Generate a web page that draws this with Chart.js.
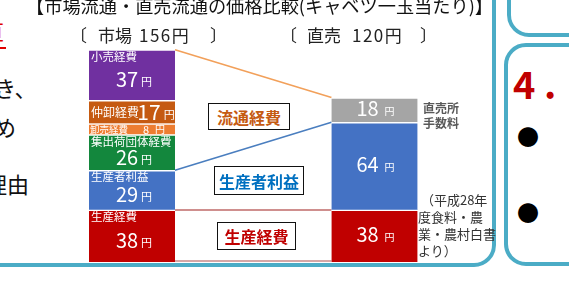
<!DOCTYPE html>
<html><head><meta charset="utf-8">
<script src="https://cdn.jsdelivr.net/npm/chart.js@4.4.1/dist/chart.umd.min.js"></script>
<style>
html,body{margin:0;padding:0;background:#fff;}
body{width:569px;height:284px;position:relative;overflow:hidden;font-family:"Noto Sans CJK JP","Noto Sans",sans-serif;}
.abs{position:absolute;white-space:nowrap;line-height:1;}
#c{position:absolute;left:0;top:0;}
.panel{position:absolute;border:4px solid #4BACC6;border-radius:22px;box-sizing:border-box;}
.box{position:absolute;border:1.5px solid #111;background:#fff;font-weight:bold;font-size:16px;display:flex;align-items:center;justify-content:center;box-sizing:border-box;line-height:1;}
</style></head>
<body>
<div class="panel" style="left:-40px;top:-40px;width:536px;height:307px;"></div>
<div class="panel" style="left:507px;top:-40px;width:100px;height:77px;"></div>
<div class="panel" style="left:504px;top:43px;width:100px;height:223px;"></div>

<div class="abs" style="left:-18px;top:19px;font-size:22px;color:#E00000;">直</div>
<div class="abs" style="left:0;top:47px;width:6px;height:2px;background:#E00000;"></div>
<div class="abs" style="left:-28px;top:76px;font-size:22px;color:#111;">でき、</div>
<div class="abs" style="left:-28px;top:115px;font-size:22px;color:#111;">ため</div>
<div class="abs" style="left:-15px;top:172px;font-size:22px;color:#111;">理由</div>

<div class="abs" style="left:513px;top:64px;font-size:38px;font-weight:bold;color:#C00000;">4</div>
<div class="abs" style="left:544px;top:64px;font-size:38px;font-weight:bold;color:#C00000;">.</div>
<div class="abs" style="left:517px;top:124px;font-size:22px;color:#000;">●</div>
<div class="abs" style="left:517px;top:200px;font-size:22px;color:#000;">●</div>

<canvas id="c" width="569" height="284"></canvas>

<div class="abs" id="title" style="left:26px;top:-4px;font-size:18.2px;color:#111;">【市場流通・直売流通の価格比較(キャベツ一玉当たり)】</div>
<div class="abs" style="left:70px;top:26px;font-size:17px;color:#222;">〔</div>
<div class="abs" style="left:98px;top:26px;font-size:17px;color:#222;">市場</div>
<div class="abs" style="left:139px;top:26px;font-size:17px;color:#222;letter-spacing:1.5px;" id="tot0"></div>
<div class="abs" style="left:210px;top:26px;font-size:17px;color:#222;">〕</div>
<div class="abs" style="left:280px;top:26px;font-size:17px;color:#222;">〔</div>
<div class="abs" style="left:307px;top:26px;font-size:17px;color:#222;">直売</div>
<div class="abs" style="left:352px;top:26px;font-size:17px;color:#222;letter-spacing:1.5px;" id="tot1"></div>
<div class="abs" style="left:420px;top:26px;font-size:17px;color:#222;">〕</div>

<div class="box" style="left:208px;top:103px;width:82px;height:27px;color:#C55A11;">流通経費</div>
<div class="box" style="left:214px;top:166px;width:90px;height:29px;color:#0070C0;">生産者利益</div>
<div class="box" style="left:217px;top:222px;width:79px;height:28px;color:#C00000;">生産経費</div>

<div class="abs" style="left:423px;top:100px;font-size:12px;line-height:15px;font-weight:bold;color:#595959;">直売所<br>手数料</div>
<div class="abs" style="left:418px;top:191px;font-size:13px;line-height:17px;color:#333;">&nbsp;（平成28年<br>度食料・農<br>業・農村白書<br>より）</div>

<script>
// ---- data ----
const categories = ['市場', '直売'];
const totals = [156, 120];
const segmentNames = ['生産経費', '生産者利益', '集出荷団体経費', '卸売経費', '仲卸経費', '小売経費', '直売所手数料'];
const marketValues = [38, 29, 26, 8, 17, 37, null];
const directValues = [38, 64, null, null, null, null, 18];
const unit = '円';

document.getElementById('tot0').textContent = totals[0] + unit;
document.getElementById('tot1').textContent = totals[1] + unit;

const segmentColors = ['#C00000', '#4472C4', '#13873D', '#ED7D31', '#C55A11', '#7030A0', '#A5A5A5'];
const inlineLabel = [false, false, false, 'small', 'inline', false, false];
// series lines: [fromDataset (market bar top), toDataset (direct bar top), color]
const seriesLinks = [[5, 6, '#F2A05A'], [1, 1, '#4A7EBF'], [0, 0, '#BF6A68'], [-1, -1, '#C98A88']];

const FONT = '"Noto Sans CJK JP","Noto Sans",sans-serif';

function drawValue(ctx, num, cx, cy, numSize, unitSize, gap) {
  ctx.font = numSize + 'px ' + FONT;
  const wN = ctx.measureText(String(num)).width;
  ctx.font = unitSize + 'px ' + FONT;
  const wU = ctx.measureText(unit).width;
  const total = wN + gap + wU;
  const x0 = cx - total / 2;
  const base = cy + numSize * 0.36;
  ctx.textBaseline = 'alphabetic';
  ctx.textAlign = 'left';
  ctx.font = numSize + 'px ' + FONT;
  ctx.fillText(String(num), x0, base);
  ctx.font = unitSize + 'px ' + FONT;
  ctx.fillText(unit, x0 + wN + gap, base - 1);
}

const linkPlugin = {
  id: 'links',
  beforeDatasetsDraw(chart) {
    const ctx = chart.ctx;
    const ys = chart.scales.y;
    ctx.save();
    ctx.lineWidth = 1.6;
    seriesLinks.forEach(([a, b, col]) => {
      const refA = chart.getDatasetMeta(a < 0 ? 0 : a).data[0];
      const refB = chart.getDatasetMeta(b < 0 ? 0 : b).data[1];
      const x1 = refA.x + refA.width / 2;
      const x2 = refB.x - refB.width / 2;
      const y1 = a < 0 ? ys.getPixelForValue(0) - 1 : refA.y;
      const y2 = b < 0 ? ys.getPixelForValue(0) - 1 : refB.y;
      ctx.strokeStyle = col;
      ctx.beginPath();
      ctx.moveTo(x1, y1);
      ctx.lineTo(x2, y2);
      ctx.stroke();
    });
    ctx.restore();
  }
};

const labelPlugin = {
  id: 'segLabels',
  afterDatasetsDraw(chart) {
    const ctx = chart.ctx;
    ctx.save();
    ctx.fillStyle = '#fff';
    chart.data.datasets.forEach((ds, di) => {
      const meta = chart.getDatasetMeta(di);
      ds.data.forEach((v, ci) => {
        if (v === null || v === undefined) return;
        const el = meta.data[ci];
        const top = Math.min(el.y, el.base), bot = Math.max(el.y, el.base);
        const left = el.x - el.width / 2, right = el.x + el.width / 2;
        const mid = (top + bot) / 2;
        ctx.fillStyle = '#fff';
        if (ci === 1) {
          drawValue(ctx, v, el.x + 1, mid - 1, 20, 10, 6);
          return;
        }
        const mode = inlineLabel[di];
        if (mode === 'inline') {
          ctx.font = '12px ' + FONT;
          ctx.textBaseline = 'middle';
          ctx.textAlign = 'left';
          ctx.fillText(segmentNames[di], left + 2, mid);
          drawValue(ctx, v, right - 19, mid, 21, 11, 3);
        } else if (mode === 'small') {
          ctx.font = '9.5px ' + FONT;
          ctx.textBaseline = 'middle';
          ctx.textAlign = 'left';
          ctx.fillText(segmentNames[di], left + 1, mid + 0.5);
          ctx.font = '11px ' + FONT;
          ctx.fillText(String(v), left + 54, mid + 0.5);
          ctx.font = '10px ' + FONT;
          ctx.fillText(unit, left + 66, mid + 0.5);
        } else {
          ctx.font = '11.5px ' + FONT;
          ctx.textBaseline = 'top';
          ctx.textAlign = 'left';
          ctx.fillText(segmentNames[di], left + 2, top + 1);
          drawValue(ctx, v, el.x + 2, mid + 5, 20, 11, 3);
        }
      });
    });
    ctx.restore();
  }
};

const datasets = segmentNames.map((name, i) => ({
  label: name,
  data: [marketValues[i], directValues[i]],
  backgroundColor: segmentColors[i],
  borderColor: '#ffffff',
  borderWidth: {top: 1.5, bottom: 0, left: 0, right: 0},
  borderSkipped: false,
  barThickness: 86
}));

new Chart(document.getElementById('c'), {
  type: 'bar',
  data: {labels: categories, datasets},
  options: {
    responsive: false,
    animation: false,
    devicePixelRatio: 1,
    layout: {padding: {top: 42.8, bottom: 22, left: 10.75, right: 73.25}},
    plugins: {legend: {display: false}, tooltip: {enabled: false}, title: {display: false}},
    scales: {
      x: {stacked: true, display: false},
      y: {stacked: true, display: false, min: 0, max: 160}
    }
  },
  plugins: [linkPlugin, labelPlugin]
});
</script>
</body></html>
